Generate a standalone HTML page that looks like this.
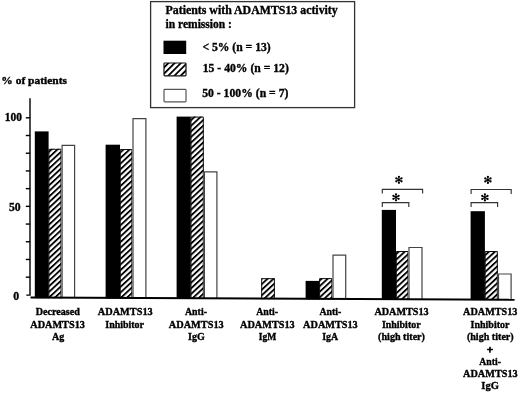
<!DOCTYPE html>
<html><head><meta charset="utf-8"><style>
html,body{margin:0;padding:0;background:#fff;width:520px;height:393px;overflow:hidden}
svg{display:block;will-change:transform}
text{font-family:"Liberation Serif",serif;font-weight:bold;fill:#000;stroke:#000;stroke-width:0.35px}
</style></head><body>
<svg width="520" height="393" viewBox="0 0 520 393">
<defs>
<pattern id="hb" patternUnits="userSpaceOnUse" width="4.1" height="4.1" patternTransform="rotate(-43)">
<rect width="4.1" height="4.1" fill="#fff"/><rect width="4.1" height="1.85" fill="#000"/></pattern>
<pattern id="hl" patternUnits="userSpaceOnUse" width="4.4" height="4.4" patternTransform="rotate(-45)">
<rect width="4.4" height="4.4" fill="#fff"/><rect width="4.4" height="1.8" fill="#000"/></pattern>
</defs>
<rect width="520" height="393" fill="#fff"/>
<rect x="150.6" y="1.6" width="204" height="106" fill="#fff" stroke="#333" stroke-width="1.3"/>
<rect x="163.5" y="40.7" width="22.7" height="13.3" fill="#000"/>
<rect x="164.0" y="63.0" width="22.0" height="12.8" rx="0.8" fill="url(#hl)" stroke="#111" stroke-width="1.2"/>
<rect x="164.0" y="89.4" width="22.0" height="12.4" rx="0.8" fill="#fff" stroke="#555" stroke-width="1.2"/>
<rect x="48.40" y="148.80" width="13.10" height="149.41" fill="url(#hb)"/><path d="M48.90 298.21 V149.30 H61.00 V298.21" fill="none" stroke="#111" stroke-width="1"/><rect x="61.50" y="144.80" width="13.70" height="153.47" fill="#fff"/><path d="M62.10 298.27 V145.40 H74.60 V298.27" fill="none" stroke="#444" stroke-width="1.2"/><rect x="119.80" y="149.00" width="12.60" height="149.52" fill="url(#hb)"/><path d="M120.30 298.52 V149.50 H131.90 V298.52" fill="none" stroke="#111" stroke-width="1"/><rect x="132.40" y="118.10" width="14.10" height="180.48" fill="#fff"/><path d="M133.00 298.58 V118.70 H145.90 V298.58" fill="none" stroke="#444" stroke-width="1.2"/><rect x="190.50" y="116.60" width="13.30" height="182.24" fill="url(#hb)"/><path d="M191.00 298.84 V117.10 H203.30 V298.84" fill="none" stroke="#111" stroke-width="1"/><rect x="203.80" y="171.30" width="13.70" height="127.59" fill="#fff"/><path d="M204.40 298.89 V171.90 H216.90 V298.89" fill="none" stroke="#444" stroke-width="1.2"/><rect x="261.20" y="278.20" width="13.70" height="20.95" fill="url(#hb)"/><path d="M261.70 299.15 V278.70 H274.40 V299.15" fill="none" stroke="#111" stroke-width="1"/><rect x="319.10" y="278.10" width="13.30" height="21.30" fill="url(#hb)"/><path d="M319.60 299.40 V278.60 H331.90 V299.40" fill="none" stroke="#111" stroke-width="1"/><rect x="332.40" y="254.50" width="13.90" height="44.96" fill="#fff"/><path d="M333.00 299.46 V255.10 H345.70 V299.46" fill="none" stroke="#444" stroke-width="1.2"/><rect x="395.80" y="251.00" width="12.70" height="48.74" fill="url(#hb)"/><path d="M396.30 299.74 V251.50 H408.00 V299.74" fill="none" stroke="#111" stroke-width="1"/><rect x="408.40" y="246.90" width="14.20" height="52.90" fill="#fff"/><path d="M409.00 299.80 V247.50 H422.00 V299.80" fill="none" stroke="#444" stroke-width="1.2"/><rect x="484.70" y="251.00" width="13.10" height="49.13" fill="url(#hb)"/><path d="M485.20 300.13 V251.50 H497.30 V300.13" fill="none" stroke="#111" stroke-width="1"/><rect x="497.90" y="273.40" width="13.80" height="26.79" fill="#fff"/><path d="M498.50 300.19 V274.00 H511.10 V300.19" fill="none" stroke="#444" stroke-width="1.2"/><rect x="34.80" y="131.4" width="13.80" height="166.75" fill="#000"/><rect x="105.60" y="144.7" width="14.40" height="153.76" fill="#000"/><rect x="176.60" y="116.6" width="14.10" height="182.18" fill="#000"/><rect x="305.60" y="280.9" width="13.70" height="18.44" fill="#000"/><rect x="381.80" y="209.9" width="14.20" height="89.78" fill="#000"/><rect x="470.60" y="211.2" width="14.30" height="88.87" fill="#000"/>
<g stroke="#000" stroke-width="1.4" fill="none">
<path d="M30.0 98.2 V295.1 H26.3"/>
<line x1="25.8" x2="30.1" y1="117.80" y2="117.80"/><line x1="25.8" x2="30.1" y1="135.51" y2="135.51"/><line x1="25.8" x2="30.1" y1="153.22" y2="153.22"/><line x1="25.8" x2="30.1" y1="170.93" y2="170.93"/><line x1="25.8" x2="30.1" y1="188.64" y2="188.64"/><line x1="25.8" x2="30.1" y1="206.35" y2="206.35"/><line x1="25.8" x2="30.1" y1="224.06" y2="224.06"/><line x1="25.8" x2="30.1" y1="241.77" y2="241.77"/><line x1="25.8" x2="30.1" y1="259.48" y2="259.48"/><line x1="25.8" x2="30.1" y1="277.19" y2="277.19"/>
</g>
<line x1="30.5" y1="297.60" x2="514.6" y2="299.73" stroke="#000" stroke-width="2"/>
<path d="M382.3 193.6 V189.4 H422.6 V193.6" stroke="#333" stroke-width="1.15" fill="none"/><line x1="398.90" y1="176.75" x2="398.90" y2="182.85" stroke="#000" stroke-width="1.05"/><circle cx="398.90" cy="182.85" r="1.1" fill="#000"/><circle cx="398.90" cy="176.75" r="1.1" fill="#000"/><line x1="396.26" y1="178.28" x2="401.54" y2="181.33" stroke="#000" stroke-width="1.05"/><circle cx="401.54" cy="181.33" r="1.1" fill="#000"/><circle cx="396.26" cy="178.28" r="1.1" fill="#000"/><line x1="401.54" y1="178.28" x2="396.26" y2="181.33" stroke="#000" stroke-width="1.05"/><circle cx="396.26" cy="181.33" r="1.1" fill="#000"/><circle cx="401.54" cy="178.28" r="1.1" fill="#000"/><circle cx="398.9" cy="179.8" r="1.1" fill="#000"/><path d="M382.3 207.0 V202.6 H408.8 V207.0" stroke="#333" stroke-width="1.15" fill="none"/><line x1="396.00" y1="194.25" x2="396.00" y2="200.35" stroke="#000" stroke-width="1.05"/><circle cx="396.00" cy="200.35" r="1.1" fill="#000"/><circle cx="396.00" cy="194.25" r="1.1" fill="#000"/><line x1="393.36" y1="195.78" x2="398.64" y2="198.83" stroke="#000" stroke-width="1.05"/><circle cx="398.64" cy="198.83" r="1.1" fill="#000"/><circle cx="393.36" cy="195.78" r="1.1" fill="#000"/><line x1="398.64" y1="195.78" x2="393.36" y2="198.83" stroke="#000" stroke-width="1.05"/><circle cx="393.36" cy="198.83" r="1.1" fill="#000"/><circle cx="398.64" cy="195.78" r="1.1" fill="#000"/><circle cx="396.0" cy="197.3" r="1.1" fill="#000"/><path d="M471.1 193.9 V189.5 H511.2 V193.9" stroke="#333" stroke-width="1.15" fill="none"/><line x1="487.90" y1="176.85" x2="487.90" y2="182.95" stroke="#000" stroke-width="1.05"/><circle cx="487.90" cy="182.95" r="1.1" fill="#000"/><circle cx="487.90" cy="176.85" r="1.1" fill="#000"/><line x1="485.26" y1="178.38" x2="490.54" y2="181.43" stroke="#000" stroke-width="1.05"/><circle cx="490.54" cy="181.43" r="1.1" fill="#000"/><circle cx="485.26" cy="178.38" r="1.1" fill="#000"/><line x1="490.54" y1="178.38" x2="485.26" y2="181.43" stroke="#000" stroke-width="1.05"/><circle cx="485.26" cy="181.43" r="1.1" fill="#000"/><circle cx="490.54" cy="178.38" r="1.1" fill="#000"/><circle cx="487.9" cy="179.9" r="1.1" fill="#000"/><path d="M471.1 207.0 V202.6 H497.6 V207.0" stroke="#333" stroke-width="1.15" fill="none"/><line x1="484.90" y1="194.35" x2="484.90" y2="200.45" stroke="#000" stroke-width="1.05"/><circle cx="484.90" cy="200.45" r="1.1" fill="#000"/><circle cx="484.90" cy="194.35" r="1.1" fill="#000"/><line x1="482.26" y1="195.88" x2="487.54" y2="198.93" stroke="#000" stroke-width="1.05"/><circle cx="487.54" cy="198.93" r="1.1" fill="#000"/><circle cx="482.26" cy="195.88" r="1.1" fill="#000"/><line x1="487.54" y1="195.88" x2="482.26" y2="198.93" stroke="#000" stroke-width="1.05"/><circle cx="482.26" cy="198.93" r="1.1" fill="#000"/><circle cx="487.54" cy="195.88" r="1.1" fill="#000"/><circle cx="484.9" cy="197.4" r="1.1" fill="#000"/>
<text x="165.60" y="14.40" font-size="12.2" textLength="172.12" lengthAdjust="spacingAndGlyphs">Patients with ADAMTS13 activity</text><text x="165.60" y="27.75" font-size="12.2" textLength="66.30" lengthAdjust="spacingAndGlyphs">in remission :</text><text x="202.40" y="50.75" font-size="11.6" textLength="68.32" lengthAdjust="spacingAndGlyphs">&lt; 5% (n = 13)</text><text x="202.75" y="72.40" font-size="11.6" textLength="86.05" lengthAdjust="spacingAndGlyphs">15 - 40% (n = 12)</text><text x="202.20" y="97.40" font-size="11.6" textLength="86.20" lengthAdjust="spacingAndGlyphs">50 - 100% (n = 7)</text><text x="1.35" y="83.60" font-size="10.9" textLength="65.58" lengthAdjust="spacingAndGlyphs">% of patients</text><text x="4.85" y="120.90" font-size="11.8" textLength="17.15" lengthAdjust="spacingAndGlyphs">100</text><text x="8.90" y="211.30" font-size="11.8" textLength="11.70" lengthAdjust="spacingAndGlyphs">50</text><text x="13.20" y="299.60" font-size="11.8" textLength="5.90" lengthAdjust="spacingAndGlyphs">0</text><text x="35.75" y="314.90" font-size="10.6" textLength="44.14" lengthAdjust="spacingAndGlyphs">Decreased</text><text x="30.25" y="327.60" font-size="10.6" textLength="54.64" lengthAdjust="spacingAndGlyphs">ADAMTS13</text><text x="52.00" y="340.10" font-size="10.6" textLength="12.27" lengthAdjust="spacingAndGlyphs">Ag</text><text x="97.75" y="314.90" font-size="10.6" textLength="54.99" lengthAdjust="spacingAndGlyphs">ADAMTS13</text><text x="105.25" y="327.60" font-size="10.6" textLength="38.75" lengthAdjust="spacingAndGlyphs">Inhibitor</text><text x="185.00" y="314.90" font-size="10.6" textLength="21.92" lengthAdjust="spacingAndGlyphs">Anti-</text><text x="168.75" y="327.60" font-size="10.6" textLength="54.99" lengthAdjust="spacingAndGlyphs">ADAMTS13</text><text x="188.10" y="340.10" font-size="10.6" textLength="16.67" lengthAdjust="spacingAndGlyphs">IgG</text><text x="256.25" y="314.90" font-size="10.6" textLength="21.87" lengthAdjust="spacingAndGlyphs">Anti-</text><text x="240.00" y="327.60" font-size="10.6" textLength="54.74" lengthAdjust="spacingAndGlyphs">ADAMTS13</text><text x="258.75" y="340.10" font-size="10.6" textLength="17.48" lengthAdjust="spacingAndGlyphs">IgM</text><text x="319.40" y="314.90" font-size="10.6" textLength="21.87" lengthAdjust="spacingAndGlyphs">Anti-</text><text x="303.10" y="327.60" font-size="10.6" textLength="54.64" lengthAdjust="spacingAndGlyphs">ADAMTS13</text><text x="322.25" y="340.10" font-size="10.6" textLength="15.86" lengthAdjust="spacingAndGlyphs">IgA</text><text x="374.40" y="314.90" font-size="10.6" textLength="54.34" lengthAdjust="spacingAndGlyphs">ADAMTS13</text><text x="381.90" y="327.60" font-size="10.6" textLength="38.70" lengthAdjust="spacingAndGlyphs">Inhibitor</text><text x="378.10" y="340.10" font-size="10.6" textLength="46.88" lengthAdjust="spacingAndGlyphs">(high titer)</text><text x="463.10" y="314.90" font-size="10.6" textLength="54.39" lengthAdjust="spacingAndGlyphs">ADAMTS13</text><text x="470.60" y="327.60" font-size="10.6" textLength="38.80" lengthAdjust="spacingAndGlyphs">Inhibitor</text><text x="466.90" y="340.10" font-size="10.6" textLength="46.83" lengthAdjust="spacingAndGlyphs">(high titer)</text><text x="479.30" y="364.60" font-size="10.6" textLength="21.62" lengthAdjust="spacingAndGlyphs">Anti-</text><text x="463.10" y="376.80" font-size="10.6" textLength="54.59" lengthAdjust="spacingAndGlyphs">ADAMTS13</text><text x="481.30" y="389.20" font-size="10.6" textLength="17.52" lengthAdjust="spacingAndGlyphs">IgG</text><path d="M487.1 349.5 H492.9 M489.95 346.8 V352.7" stroke="#000" stroke-width="1.6" fill="none"/>
</svg>
</body></html>
